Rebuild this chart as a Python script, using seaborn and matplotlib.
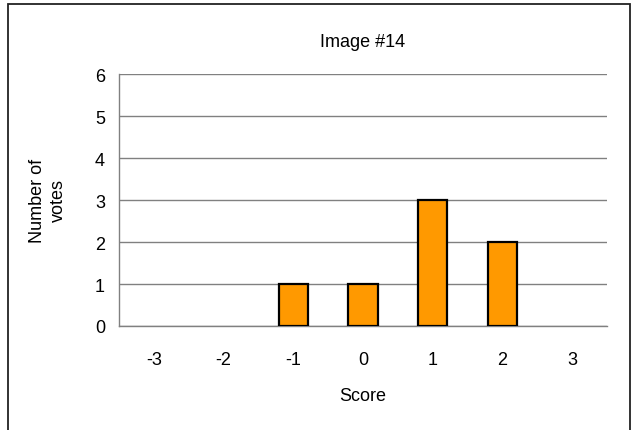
import pandas as pd
import numpy as np
import matplotlib
matplotlib.use("Agg")
import matplotlib.pyplot as plt
import seaborn as sns
from matplotlib.patches import Rectangle

# Data
scores = [-3, -2, -1, 0, 1, 2, 3]
votes = [0, 0, 1, 1, 3, 2, 0]

df = pd.DataFrame({"Score": [str(s) for s in scores], "Votes": votes})

sns.set_style("white")
plt.rcParams["font.family"] = ["Liberation Sans", "DejaVu Sans"]
plt.rcParams["text.color"] = "black"
plt.rcParams["axes.labelcolor"] = "black"
plt.rcParams["xtick.labelcolor"] = "black"
plt.rcParams["ytick.labelcolor"] = "black"
fs = 13

fig = plt.figure(figsize=(6.31, 4.31), dpi=100)
ax = fig.add_axes([119 / 631, 1 - 327 / 431, (607 - 119) / 631, (327 - 75) / 431])

# outer chart frame (bottom edge falls outside the image)
fig.patches.append(Rectangle((8 / 631, -0.05), (629.5 - 8) / 631, 1.05 - 5 / 431,
                             transform=fig.transFigure, fill=False,
                             edgecolor="#222222", linewidth=1.3, zorder=0))

sns.barplot(data=df, x="Score", y="Votes", order=[str(s) for s in scores],
            color="#FF9900", edgecolor="black", linewidth=1.6, width=0.42,
            saturation=1, ax=ax, zorder=3)
# empty categories have no visible bar
for p in ax.patches:
    if p.get_height() == 0:
        p.set_visible(False)

ax.set_ylim(0, 6)
ax.set_xlim(-0.5, len(scores) - 0.5)
ax.set_yticks(range(0, 7))
ax.yaxis.grid(True, color="#808080", linewidth=1)
ax.set_axisbelow(True)

# ticks between the categories on the x axis
ax.set_xticks(np.arange(-0.5, len(scores), 1), minor=True)
ax.tick_params(axis="x", which="major", length=0, pad=18, labelsize=fs)
ax.tick_params(axis="x", which="minor", length=5, width=1, color="#808080", direction="out")
ax.tick_params(axis="y", length=5, width=1, color="#808080", direction="out", pad=5, labelsize=fs)

for side in ["top", "right"]:
    ax.spines[side].set_visible(False)
for side in ["left", "bottom"]:
    ax.spines[side].set_color("#808080")
    ax.spines[side].set_linewidth(1)

ax.set_title("Image #14", fontsize=fs, pad=20)
ax.set_xlabel("Score", fontsize=fs, labelpad=14)
ax.set_ylabel("Number of\nvotes", fontsize=fs, labelpad=20, linespacing=1.35)

fig.savefig("out.png", dpi=100)
